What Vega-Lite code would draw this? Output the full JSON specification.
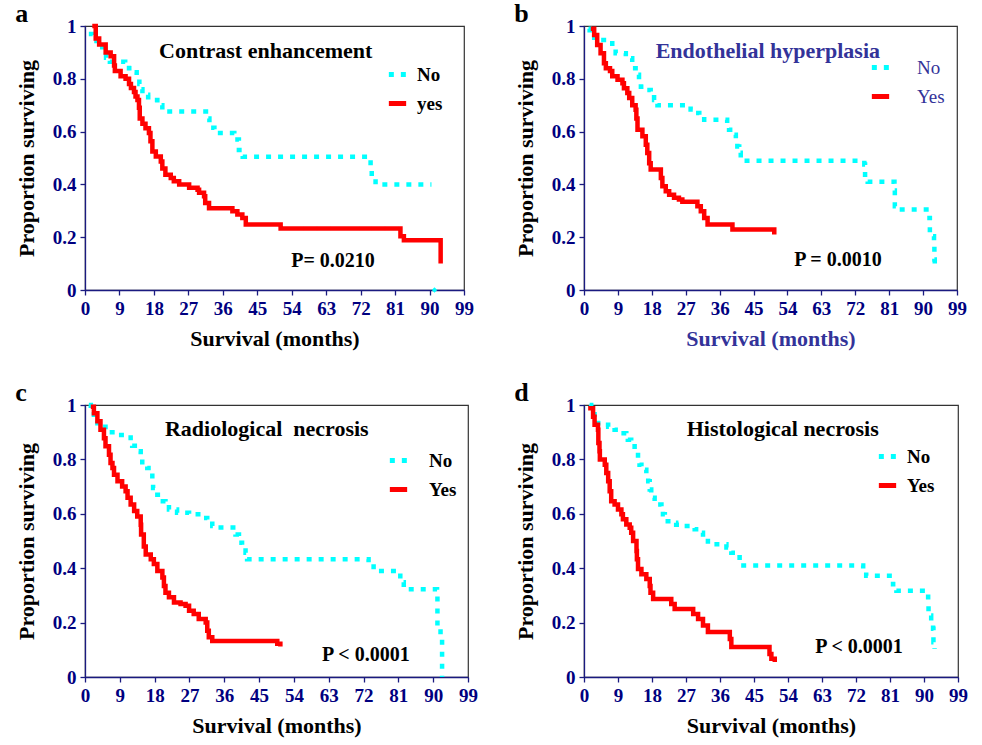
{
"$schema": "https://vega.github.io/schema/vega-lite/v6.json",
"background": "white",
"padding": {"left": 14, "top": 0, "right": 5, "bottom": 2},
"config": {
 "font": "Liberation Serif",
 "view": {"stroke": "#333333", "strokeWidth": 1.2},
 "axis": {"domainColor": "#1a1a80", "tickColor": "#1a1a80", "labelColor": "#000080", "labelFont": "Liberation Serif", "labelFontSize": 19, "labelFontWeight": "bold", "titleFont": "Liberation Serif", "titleFontSize": 22, "titleFontWeight": "bold", "titleColor": "#000000", "grid": false, "tickSize": 5, "domainWidth": 1.3, "tickWidth": 1.3, "labelFlush": false, "labelPadding": 4, "labelOverlap": false, "labelBound": false, "tickCount": 30},
 "axisY": {"titlePadding": 14},
 "axisX": {"titlePadding": 10, "labelPadding": 4},
 "title": {"font": "Liberation Serif", "fontSize": 26, "fontWeight": "bold", "color": "#000000", "anchor": "start", "frame": "bounds", "offset": -10},
 "legend": {"labelFont": "Liberation Serif", "labelFontSize": 19, "labelFontWeight": "bold", "labelColor": "#000000", "symbolType": "stroke", "symbolStrokeWidth": 5, "symbolSize": 300, "rowPadding": 7, "orient": "none"}
},
"datasets": {
 "a": [
  {"t":1,"s":0.97,"g":"No"},{"t":2,"s":0.95,"g":"No"},{"t":3,"s":0.93,"g":"No"},{"t":4.5,"s":0.91,"g":"No"},{"t":5.5,"s":0.88,"g":"No"},{"t":6.5,"s":0.865,"g":"No"},{"t":10.5,"s":0.853,"g":"No"},{"t":11.5,"s":0.84,"g":"No"},{"t":12.5,"s":0.825,"g":"No"},{"t":13.5,"s":0.81,"g":"No"},{"t":14.2,"s":0.78,"g":"No"},{"t":14.6,"s":0.76,"g":"No"},{"t":15,"s":0.74,"g":"No"},{"t":16.5,"s":0.73,"g":"No"},{"t":17.6,"s":0.72,"g":"No"},{"t":18.9,"s":0.7,"g":"No"},{"t":20.2,"s":0.676,"g":"No"},{"t":32.2,"s":0.65,"g":"No"},{"t":32.5,"s":0.615,"g":"No"},{"t":33.8,"s":0.595,"g":"No"},{"t":39,"s":0.57,"g":"No"},{"t":40.2,"s":0.53,"g":"No"},{"t":41.2,"s":0.505,"g":"No"},{"t":74.6,"s":0.47,"g":"No"},{"t":74.9,"s":0.42,"g":"No"},{"t":75.9,"s":0.4,"g":"No"},{"t":90.5,"s":0.4,"g":"No"},
  {"t":1.9,"s":1.0,"g":"yes"},{"t":2.8,"s":0.953,"g":"yes"},{"t":3.7,"s":0.93,"g":"yes"},{"t":5.4,"s":0.9,"g":"yes"},{"t":6.7,"s":0.885,"g":"yes"},{"t":7.6,"s":0.85,"g":"yes"},{"t":7.8,"s":0.83,"g":"yes"},{"t":9.3,"s":0.81,"g":"yes"},{"t":10.6,"s":0.8,"g":"yes"},{"t":11.5,"s":0.78,"g":"yes"},{"t":12,"s":0.765,"g":"yes"},{"t":12.8,"s":0.75,"g":"yes"},{"t":13.2,"s":0.733,"g":"yes"},{"t":13.7,"s":0.72,"g":"yes"},{"t":14.1,"s":0.69,"g":"yes"},{"t":14.3,"s":0.65,"g":"yes"},{"t":15,"s":0.63,"g":"yes"},{"t":15.8,"s":0.613,"g":"yes"},{"t":16.7,"s":0.595,"g":"yes"},{"t":17.1,"s":0.563,"g":"yes"},{"t":17.6,"s":0.525,"g":"yes"},{"t":18.5,"s":0.506,"g":"yes"},{"t":19.8,"s":0.487,"g":"yes"},{"t":20.2,"s":0.46,"g":"yes"},{"t":21,"s":0.437,"g":"yes"},{"t":22.4,"s":0.424,"g":"yes"},{"t":23.2,"s":0.412,"g":"yes"},{"t":24.6,"s":0.4,"g":"yes"},{"t":27.2,"s":0.387,"g":"yes"},{"t":29.4,"s":0.38,"g":"yes"},{"t":29.8,"s":0.368,"g":"yes"},{"t":31.1,"s":0.355,"g":"yes"},{"t":31.4,"s":0.33,"g":"yes"},{"t":32.4,"s":0.31,"g":"yes"},{"t":38.5,"s":0.298,"g":"yes"},{"t":39.8,"s":0.286,"g":"yes"},{"t":41.1,"s":0.273,"g":"yes"},{"t":42,"s":0.248,"g":"yes"},{"t":51.1,"s":0.233,"g":"yes"},{"t":82.4,"s":0.204,"g":"yes"},{"t":83.3,"s":0.188,"g":"yes"},{"t":92.9,"s":0.1,"g":"yes"}
 ],
 "b": [
  {"t":1.2,"s":0.99,"g":"No"},{"t":1.5,"s":0.966,"g":"No"},{"t":2.7,"s":0.947,"g":"No"},{"t":7.5,"s":0.916,"g":"No"},{"t":8.4,"s":0.897,"g":"No"},{"t":11.1,"s":0.885,"g":"No"},{"t":12.4,"s":0.878,"g":"No"},{"t":12.8,"s":0.84,"g":"No"},{"t":13.7,"s":0.815,"g":"No"},{"t":14.6,"s":0.79,"g":"No"},{"t":15.1,"s":0.77,"g":"No"},{"t":16.4,"s":0.758,"g":"No"},{"t":17.7,"s":0.74,"g":"No"},{"t":18.6,"s":0.72,"g":"No"},{"t":19.5,"s":0.7,"g":"No"},{"t":28.3,"s":0.684,"g":"No"},{"t":29.2,"s":0.67,"g":"No"},{"t":30.6,"s":0.657,"g":"No"},{"t":31.9,"s":0.645,"g":"No"},{"t":38,"s":0.632,"g":"No"},{"t":38.5,"s":0.607,"g":"No"},{"t":39.9,"s":0.588,"g":"No"},{"t":40.3,"s":0.57,"g":"No"},{"t":40.7,"s":0.544,"g":"No"},{"t":41.2,"s":0.52,"g":"No"},{"t":41.6,"s":0.49,"g":"No"},{"t":74.4,"s":0.475,"g":"No"},{"t":74.6,"s":0.418,"g":"No"},{"t":75.3,"s":0.41,"g":"No"},{"t":82.4,"s":0.377,"g":"No"},{"t":82.5,"s":0.317,"g":"No"},{"t":83.3,"s":0.305,"g":"No"},{"t":91.7,"s":0.273,"g":"No"},{"t":91.8,"s":0.217,"g":"No"},{"t":92.1,"s":0.204,"g":"No"},{"t":92.9,"s":0.166,"g":"No"},{"t":93,"s":0.116,"g":"No"},{"t":93.1,"s":0.1,"g":"No"},
  {"t":1.8,"s":0.99,"g":"Yes"},{"t":2.7,"s":0.966,"g":"Yes"},{"t":3.5,"s":0.928,"g":"Yes"},{"t":4.4,"s":0.897,"g":"Yes"},{"t":5.3,"s":0.859,"g":"Yes"},{"t":5.8,"s":0.84,"g":"Yes"},{"t":6.9,"s":0.83,"g":"Yes"},{"t":7.5,"s":0.81,"g":"Yes"},{"t":8.9,"s":0.796,"g":"Yes"},{"t":10.2,"s":0.783,"g":"Yes"},{"t":10.6,"s":0.764,"g":"Yes"},{"t":11.5,"s":0.746,"g":"Yes"},{"t":12,"s":0.727,"g":"Yes"},{"t":12.8,"s":0.7,"g":"Yes"},{"t":13.7,"s":0.683,"g":"Yes"},{"t":13.9,"s":0.65,"g":"Yes"},{"t":14.2,"s":0.607,"g":"Yes"},{"t":15.5,"s":0.582,"g":"Yes"},{"t":16.4,"s":0.55,"g":"Yes"},{"t":16.8,"s":0.519,"g":"Yes"},{"t":17.3,"s":0.48,"g":"Yes"},{"t":17.7,"s":0.456,"g":"Yes"},{"t":20.4,"s":0.424,"g":"Yes"},{"t":20.8,"s":0.393,"g":"Yes"},{"t":21.7,"s":0.374,"g":"Yes"},{"t":22.6,"s":0.361,"g":"Yes"},{"t":23.9,"s":0.349,"g":"Yes"},{"t":25.2,"s":0.343,"g":"Yes"},{"t":26.1,"s":0.334,"g":"Yes"},{"t":30.1,"s":0.317,"g":"Yes"},{"t":31,"s":0.298,"g":"Yes"},{"t":31.9,"s":0.273,"g":"Yes"},{"t":32.8,"s":0.248,"g":"Yes"},{"t":39.4,"s":0.229,"g":"Yes"},{"t":50,"s":0.229,"g":"Yes"},{"t":50.5,"s":0.21,"g":"Yes"}
 ],
 "c": [
  {"t":1,"s":1.0,"g":"No"},{"t":1.5,"s":0.976,"g":"No"},{"t":2.3,"s":0.95,"g":"No"},{"t":3.2,"s":0.933,"g":"No"},{"t":4.5,"s":0.92,"g":"No"},{"t":5.3,"s":0.9,"g":"No"},{"t":7.9,"s":0.89,"g":"No"},{"t":11.8,"s":0.87,"g":"No"},{"t":12.2,"s":0.85,"g":"No"},{"t":13.5,"s":0.83,"g":"No"},{"t":14.4,"s":0.805,"g":"No"},{"t":14.8,"s":0.78,"g":"No"},{"t":16.1,"s":0.768,"g":"No"},{"t":17,"s":0.75,"g":"No"},{"t":17.4,"s":0.726,"g":"No"},{"t":17.6,"s":0.695,"g":"No"},{"t":18.7,"s":0.67,"g":"No"},{"t":19.5,"s":0.646,"g":"No"},{"t":20.8,"s":0.64,"g":"No"},{"t":21.7,"s":0.616,"g":"No"},{"t":23.8,"s":0.604,"g":"No"},{"t":26.9,"s":0.598,"g":"No"},{"t":30.3,"s":0.585,"g":"No"},{"t":31.6,"s":0.573,"g":"No"},{"t":32.9,"s":0.555,"g":"No"},{"t":34.2,"s":0.55,"g":"No"},{"t":38.9,"s":0.524,"g":"No"},{"t":39.8,"s":0.494,"g":"No"},{"t":40.6,"s":0.476,"g":"No"},{"t":41.5,"s":0.457,"g":"No"},{"t":41.9,"s":0.433,"g":"No"},{"t":73.3,"s":0.415,"g":"No"},{"t":74.6,"s":0.39,"g":"No"},{"t":81.5,"s":0.348,"g":"No"},{"t":82.4,"s":0.323,"g":"No"},{"t":91,"s":0.31,"g":"No"},{"t":91.1,"s":0.177,"g":"No"},{"t":91.9,"s":0.146,"g":"No"},{"t":92.3,"s":0.0,"g":"No"},
  {"t":1.5,"s":0.994,"g":"Yes"},{"t":2.3,"s":0.97,"g":"Yes"},{"t":3.2,"s":0.94,"g":"Yes"},{"t":4,"s":0.909,"g":"Yes"},{"t":4.9,"s":0.878,"g":"Yes"},{"t":5.3,"s":0.848,"g":"Yes"},{"t":6.2,"s":0.817,"g":"Yes"},{"t":6.6,"s":0.787,"g":"Yes"},{"t":7.1,"s":0.768,"g":"Yes"},{"t":7.5,"s":0.744,"g":"Yes"},{"t":8.4,"s":0.72,"g":"Yes"},{"t":9.6,"s":0.7,"g":"Yes"},{"t":10.5,"s":0.683,"g":"Yes"},{"t":11,"s":0.659,"g":"Yes"},{"t":11.8,"s":0.634,"g":"Yes"},{"t":12.7,"s":0.61,"g":"Yes"},{"t":13.5,"s":0.59,"g":"Yes"},{"t":14.4,"s":0.56,"g":"Yes"},{"t":14.5,"s":0.524,"g":"Yes"},{"t":15.2,"s":0.48,"g":"Yes"},{"t":15.7,"s":0.45,"g":"Yes"},{"t":17,"s":0.433,"g":"Yes"},{"t":17.8,"s":0.415,"g":"Yes"},{"t":18.7,"s":0.39,"g":"Yes"},{"t":20,"s":0.366,"g":"Yes"},{"t":20.4,"s":0.335,"g":"Yes"},{"t":20.8,"s":0.31,"g":"Yes"},{"t":21.7,"s":0.293,"g":"Yes"},{"t":23,"s":0.274,"g":"Yes"},{"t":24.7,"s":0.268,"g":"Yes"},{"t":26,"s":0.262,"g":"Yes"},{"t":26.9,"s":0.244,"g":"Yes"},{"t":28.1,"s":0.232,"g":"Yes"},{"t":29.4,"s":0.213,"g":"Yes"},{"t":31.2,"s":0.2,"g":"Yes"},{"t":31.6,"s":0.17,"g":"Yes"},{"t":32,"s":0.146,"g":"Yes"},{"t":32.9,"s":0.132,"g":"Yes"},{"t":49.7,"s":0.122,"g":"Yes"},{"t":50.5,"s":0.112,"g":"Yes"}
 ],
 "d": [
  {"t":1.5,"s":1.0,"g":"No"},{"t":1.9,"s":0.976,"g":"No"},{"t":2.8,"s":0.95,"g":"No"},{"t":3.7,"s":0.933,"g":"No"},{"t":5.5,"s":0.927,"g":"No"},{"t":6.4,"s":0.92,"g":"No"},{"t":8.1,"s":0.909,"g":"No"},{"t":9,"s":0.896,"g":"No"},{"t":11.2,"s":0.884,"g":"No"},{"t":11.6,"s":0.872,"g":"No"},{"t":12.5,"s":0.86,"g":"No"},{"t":13.4,"s":0.835,"g":"No"},{"t":14.3,"s":0.805,"g":"No"},{"t":14.7,"s":0.78,"g":"No"},{"t":15.2,"s":0.762,"g":"No"},{"t":16.5,"s":0.744,"g":"No"},{"t":17,"s":0.72,"g":"No"},{"t":17.4,"s":0.689,"g":"No"},{"t":17.8,"s":0.659,"g":"No"},{"t":18.7,"s":0.646,"g":"No"},{"t":19.6,"s":0.634,"g":"No"},{"t":20.5,"s":0.616,"g":"No"},{"t":20.9,"s":0.598,"g":"No"},{"t":21.4,"s":0.573,"g":"No"},{"t":23.1,"s":0.567,"g":"No"},{"t":24.4,"s":0.56,"g":"No"},{"t":25.8,"s":0.555,"g":"No"},{"t":29.3,"s":0.543,"g":"No"},{"t":30.6,"s":0.53,"g":"No"},{"t":31.5,"s":0.512,"g":"No"},{"t":32.8,"s":0.488,"g":"No"},{"t":37.7,"s":0.476,"g":"No"},{"t":39,"s":0.457,"g":"No"},{"t":40.3,"s":0.44,"g":"No"},{"t":41.2,"s":0.42,"g":"No"},{"t":41.6,"s":0.41,"g":"No"},{"t":73.9,"s":0.39,"g":"No"},{"t":74.7,"s":0.372,"g":"No"},{"t":81.8,"s":0.341,"g":"No"},{"t":82.7,"s":0.317,"g":"No"},{"t":91.1,"s":0.28,"g":"No"},{"t":91.2,"s":0.226,"g":"No"},{"t":91.9,"s":0.207,"g":"No"},{"t":92.4,"s":0.177,"g":"No"},{"t":92.5,"s":0.128,"g":"No"},{"t":92.8,"s":0.104,"g":"No"},
  {"t":1.1,"s":0.988,"g":"Yes"},{"t":2.4,"s":0.957,"g":"Yes"},{"t":2.8,"s":0.927,"g":"Yes"},{"t":3.7,"s":0.909,"g":"Yes"},{"t":3.8,"s":0.86,"g":"Yes"},{"t":4.1,"s":0.83,"g":"Yes"},{"t":4.2,"s":0.8,"g":"Yes"},{"t":5.5,"s":0.78,"g":"Yes"},{"t":5.9,"s":0.75,"g":"Yes"},{"t":6.4,"s":0.72,"g":"Yes"},{"t":6.8,"s":0.683,"g":"Yes"},{"t":7.2,"s":0.646,"g":"Yes"},{"t":8.1,"s":0.634,"g":"Yes"},{"t":9,"s":0.616,"g":"Yes"},{"t":9.9,"s":0.598,"g":"Yes"},{"t":10.3,"s":0.58,"g":"Yes"},{"t":11.2,"s":0.561,"g":"Yes"},{"t":12.1,"s":0.549,"g":"Yes"},{"t":12.5,"s":0.53,"g":"Yes"},{"t":13,"s":0.5,"g":"Yes"},{"t":13.9,"s":0.463,"g":"Yes"},{"t":14,"s":0.433,"g":"Yes"},{"t":14.3,"s":0.397,"g":"Yes"},{"t":15.2,"s":0.378,"g":"Yes"},{"t":16.5,"s":0.36,"g":"Yes"},{"t":17.4,"s":0.335,"g":"Yes"},{"t":17.6,"s":0.31,"g":"Yes"},{"t":18.3,"s":0.287,"g":"Yes"},{"t":23.1,"s":0.268,"g":"Yes"},{"t":24,"s":0.25,"g":"Yes"},{"t":28.9,"s":0.232,"g":"Yes"},{"t":30.2,"s":0.213,"g":"Yes"},{"t":31.5,"s":0.189,"g":"Yes"},{"t":32.8,"s":0.165,"g":"Yes"},{"t":38.6,"s":0.14,"g":"Yes"},{"t":39,"s":0.11,"g":"Yes"},{"t":49.1,"s":0.085,"g":"Yes"},{"t":49.6,"s":0.067,"g":"Yes"},{"t":50.5,"s":0.055,"g":"Yes"}
 ]
},
"spacing": 29,
"vconcat": [
 {"hconcat": [
  {"width": 379, "height": 264, "title": {"text": "a"},
   "layer": [
    {"data": {"name": "a"}, "mark": {"type": "line", "interpolate": "step-after", "strokeWidth": 4.5, "strokeCap": "butt"},
     "encoding": {
      "x": {"field": "t", "type": "quantitative", "scale": {"domain": [0, 99], "nice": false}, "axis": {"values": [0,9,18,27,36,45,54,63,72,81,90,99], "tickCount": 30, "title": "Survival (months)"}},
      "y": {"field": "s", "type": "quantitative", "scale": {"domain": [0, 1], "nice": false}, "axis": {"values": [0,0.2,0.4,0.6,0.8,1], "tickCount": 30, "format": "~g", "title": "Proportion surviving"}},
      "color": {"field": "g", "type": "nominal", "scale": {"domain": ["No", "yes"], "range": ["#00ffff", "#ff0000"]}, "legend": {"title": null, "legendX": 301, "legendY": 37, "labelOffset": 8}},
      "strokeDash": {"field": "g", "type": "nominal", "scale": {"domain": ["No", "yes"], "range": [[5, 7], [1, 0]]}, "legend": {"title": null, "legendX": 301, "legendY": 37, "labelOffset": 8}}
     }},
    {"data": {"values": [{"t": 91.3, "s": 0}]}, "mark": {"type": "point", "shape": "diamond", "filled": true, "color": "#00ffff", "size": 30, "opacity": 1}, "encoding": {"x": {"field": "t", "type": "quantitative"}, "y": {"field": "s", "type": "quantitative"}}},
    {"data": {"values": [{}]}, "mark": {"type": "text", "fontSize": 22, "fontWeight": "bold", "color": "#000000"}, "encoding": {"x": {"datum": 47.2}, "y": {"datum": 0.905}, "text": {"value": "Contrast enhancement"}}},
    {"data": {"values": [{}]}, "mark": {"type": "text", "fontSize": 20, "fontWeight": "bold", "color": "#000000"}, "encoding": {"x": {"datum": 64.8}, "y": {"datum": 0.11}, "text": {"value": "P= 0.0210"}}}
   ]
  },
  {"width": 373, "height": 264, "title": {"text": "b"},
   "layer": [
    {"data": {"name": "b"}, "mark": {"type": "line", "interpolate": "step-after", "strokeWidth": 4.5, "strokeCap": "butt"},
     "encoding": {
      "x": {"field": "t", "type": "quantitative", "scale": {"domain": [0, 99], "nice": false}, "axis": {"values": [0,9,18,27,36,45,54,63,72,81,90,99], "tickCount": 30, "title": "Survival (months)", "titleColor": "#333399"}},
      "y": {"field": "s", "type": "quantitative", "scale": {"domain": [0, 1], "nice": false}, "axis": {"values": [0,0.2,0.4,0.6,0.8,1], "tickCount": 30, "format": "~g", "title": "Proportion surviving"}},
      "color": {"field": "g", "type": "nominal", "scale": {"domain": ["No", "Yes"], "range": ["#00ffff", "#ff0000"]}, "legend": {"title": null, "legendX": 285, "legendY": 30, "labelOffset": 25, "labelFontWeight": "normal", "labelColor": "#333399"}},
      "strokeDash": {"field": "g", "type": "nominal", "scale": {"domain": ["No", "Yes"], "range": [[5, 7], [1, 0]]}, "legend": {"title": null, "legendX": 285, "legendY": 30, "labelOffset": 25, "labelFontWeight": "normal", "labelColor": "#333399"}}
     }},
    {"data": {"values": [{}]}, "mark": {"type": "text", "fontSize": 22, "fontWeight": "bold", "color": "#333399"}, "encoding": {"x": {"datum": 48.8}, "y": {"datum": 0.905}, "text": {"value": "Endothelial hyperplasia"}}},
    {"data": {"values": [{}]}, "mark": {"type": "text", "fontSize": 20, "fontWeight": "bold", "color": "#000000"}, "encoding": {"x": {"datum": 67.4}, "y": {"datum": 0.114}, "text": {"value": "P = 0.0010"}}}
   ]
  }
 ], "spacing": 38,
 "resolve": {"scale": {"color": "independent", "strokeDash": "independent", "x": "independent", "y": "independent"}, "legend": {"color": "independent", "strokeDash": "independent"}}},
 {"hconcat": [
  {"width": 383, "height": 272, "title": {"text": "c"},
   "layer": [
    {"data": {"name": "c"}, "mark": {"type": "line", "interpolate": "step-after", "strokeWidth": 4.5, "strokeCap": "butt"},
     "encoding": {
      "x": {"field": "t", "type": "quantitative", "scale": {"domain": [0, 99], "nice": false}, "axis": {"values": [0,9,18,27,36,45,54,63,72,81,90,99], "tickCount": 30, "title": "Survival (months)"}},
      "y": {"field": "s", "type": "quantitative", "scale": {"domain": [0, 1], "nice": false}, "axis": {"values": [0,0.2,0.4,0.6,0.8,1], "tickCount": 30, "format": "~g", "title": "Proportion surviving"}},
      "color": {"field": "g", "type": "nominal", "scale": {"domain": ["No", "Yes"], "range": ["#00ffff", "#ff0000"]}, "legend": {"title": null, "legendX": 302, "legendY": 44, "labelOffset": 19}},
      "strokeDash": {"field": "g", "type": "nominal", "scale": {"domain": ["No", "Yes"], "range": [[5, 7], [1, 0]]}, "legend": {"title": null, "legendX": 302, "legendY": 44, "labelOffset": 19}}
     }},
    {"data": {"values": [{}]}, "mark": {"type": "text", "fontSize": 22, "fontWeight": "bold", "color": "#000000"}, "encoding": {"x": {"datum": 47}, "y": {"datum": 0.91}, "text": {"value": "Radiological\u00a0 necrosis"}}},
    {"data": {"values": [{}]}, "mark": {"type": "text", "fontSize": 20, "fontWeight": "bold", "color": "#000000"}, "encoding": {"x": {"datum": 72.6}, "y": {"datum": 0.08}, "text": {"value": "P < 0.0001"}}}
   ]
  },
  {"width": 374, "height": 272, "title": {"text": "d"},
   "layer": [
    {"data": {"name": "d"}, "mark": {"type": "line", "interpolate": "step-after", "strokeWidth": 4.5, "strokeCap": "butt"},
     "encoding": {
      "x": {"field": "t", "type": "quantitative", "scale": {"domain": [0, 99], "nice": false}, "axis": {"values": [0,9,18,27,36,45,54,63,72,81,90,99], "tickCount": 30, "title": "Survival (months)"}},
      "y": {"field": "s", "type": "quantitative", "scale": {"domain": [0, 1], "nice": false}, "axis": {"values": [0,0.2,0.4,0.6,0.8,1], "tickCount": 30, "format": "~g", "title": "Proportion surviving"}},
      "color": {"field": "g", "type": "nominal", "scale": {"domain": ["No", "Yes"], "range": ["#00ffff", "#ff0000"]}, "legend": {"title": null, "legendX": 292, "legendY": 40, "labelOffset": 8}},
      "strokeDash": {"field": "g", "type": "nominal", "scale": {"domain": ["No", "Yes"], "range": [[5, 7], [1, 0]]}, "legend": {"title": null, "legendX": 292, "legendY": 40, "labelOffset": 8}}
     }},
    {"data": {"values": [{}]}, "mark": {"type": "text", "fontSize": 22, "fontWeight": "bold", "color": "#000000"}, "encoding": {"x": {"datum": 52.6}, "y": {"datum": 0.91}, "text": {"value": "Histological necrosis"}}},
    {"data": {"values": [{}]}, "mark": {"type": "text", "fontSize": 20, "fontWeight": "bold", "color": "#000000"}, "encoding": {"x": {"datum": 72.8}, "y": {"datum": 0.11}, "text": {"value": "P < 0.0001"}}}
   ]
  }
 ], "spacing": 34,
 "resolve": {"scale": {"color": "independent", "strokeDash": "independent", "x": "independent", "y": "independent"}, "legend": {"color": "independent", "strokeDash": "independent"}}}
],
"resolve": {"scale": {"color": "independent", "strokeDash": "independent", "x": "independent", "y": "independent"}, "legend": {"color": "independent", "strokeDash": "independent"}}
}
